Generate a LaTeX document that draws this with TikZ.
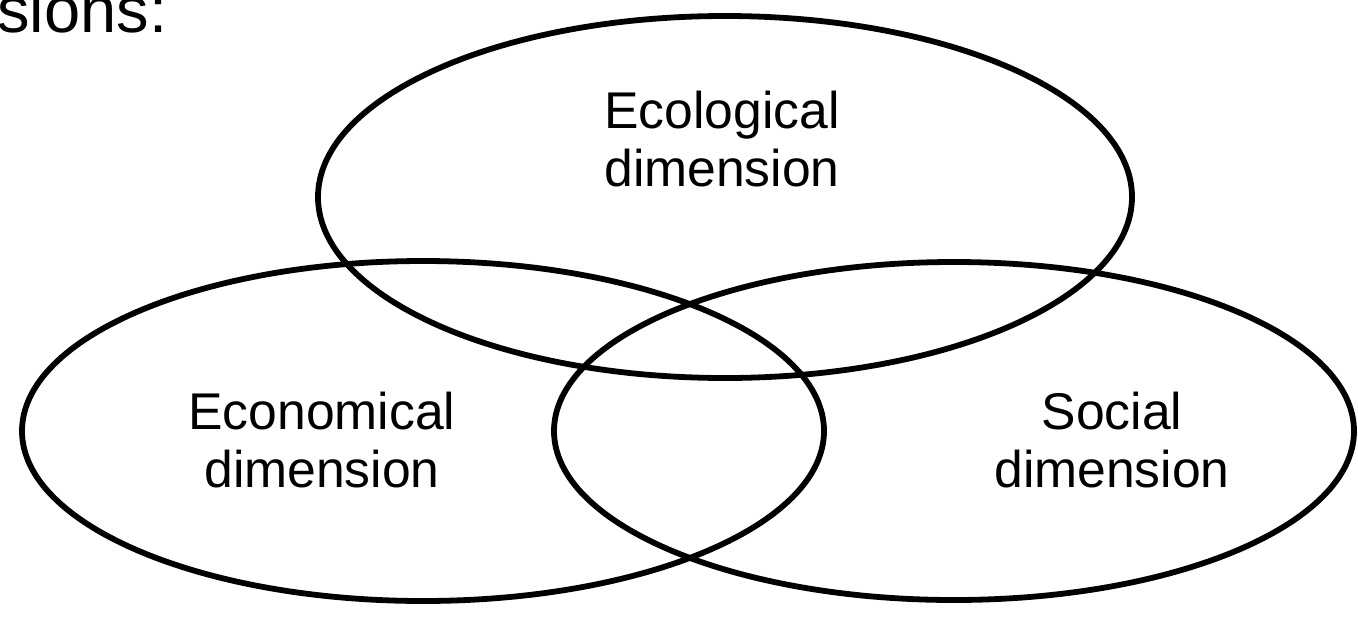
\documentclass[tikz,border=0pt]{standalone}
\usepackage{fontspec}
\setmainfont{Liberation Sans}
\tikzset{
  dimlabel/.style={align=center, inner sep=0pt, anchor=base,
    font=\fontsize{29.4pt}{33pt}\selectfont},
  venn/.style={line width=3.3pt}
}
\begin{document}
\begin{tikzpicture}[x=0.02cm, y=0.02cm]
                \useasboundingbox (0,0) rectangle (1358,-629);
                \clip (0,0) rectangle (1358,-629);
                 % Draw ellipses
                \draw[venn] (725,-197) ellipse [x radius=407, y radius=181];
                \draw[venn] (423,-431) ellipse [x radius=401, y radius=170];
                \draw[venn] (954,-431) ellipse [x radius=400, y radius=169];

                % Heading fragment (top left)
                \node[anchor=base west, inner sep=0pt,
                      font=\fontsize{37pt}{40pt}\selectfont] (heading) at (-3,-32) {sions:};

                % Labels inside the ellipses (base = last line)
                \node[dimlabel] (ecological) at (722,-186) {Ecological\\dimension};
                \node[dimlabel] (economical) at (322,-487) {Economical\\dimension};
                \node[dimlabel] (social) at (1112,-487) {Social\\dimension};
            \end{tikzpicture}
\end{document}
